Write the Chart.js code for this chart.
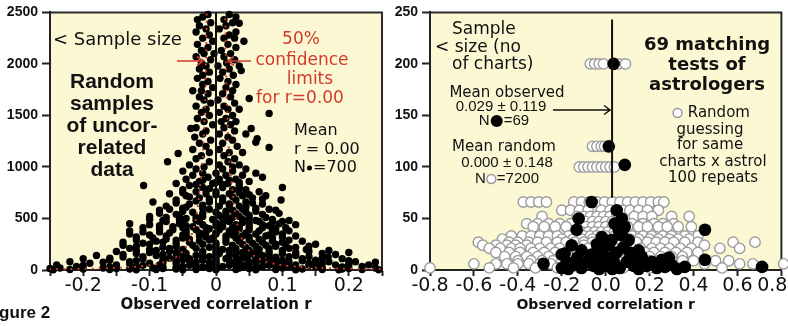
<!DOCTYPE html>
<html>
<head>
<meta charset="utf-8">
<script src="https://cdn.jsdelivr.net/npm/chart.js@4.4.1/dist/chart.umd.min.js"></script>
<style>
  html, body { margin: 0; padding: 0; background: #fff; }
  #wrap { position: relative; width: 788px; height: 326px; overflow: hidden; }
  canvas { position: absolute; top: 0; }
  #left { left: 0; }
  #right { left: 388px; }
</style>
</head>
<body>
<div id="wrap">
  <canvas id="left" width="395" height="326"></canvas>
  <canvas id="right" width="400" height="326"></canvas>
</div>
<script>
// ---- left panel: random samples of uncorrelated data, [r, sample size] ----
const randomSampleDots = [
  // narrow column above N = 1000
  [-0.012,2480],[0.02,2480],[-0.02,2455],[0.03,2455],[0.012,2430],[-0.028,2430],
  [-0.008,2400],[0.025,2400],[0.035,2395],[-0.025,2370],[0.015,2370],[0.005,2340],[-0.015,2340],
  [0.03,2310],[-0.03,2310],[-0.01,2280],[0.02,2280],[-0.02,2250],[0.012,2250],[0.028,2250],
  [0.042,2220],[-0.005,2220],[-0.028,2190],[0.018,2190],[-0.012,2160],[0.03,2160],
  [0.008,2130],[-0.022,2130],[-0.018,2100],[0.022,2100],[-0.003,2100],[0.012,2070],[-0.03,2070],
  [-0.008,2040],[0.028,2040],[-0.022,2010],[0.016,2010],[0.003,1980],[-0.015,1980],[0.035,1980],
  [-0.025,1950],[0.02,1950],[0.038,1935],[-0.01,1920],[0.01,1920],[-0.02,1890],[0.026,1890],
  [0.006,1860],[-0.028,1860],[-0.012,1830],[0.018,1830],[0.03,1800],[-0.02,1800],
  [-0.005,1770],[0.015,1770],[-0.035,1740],[-0.022,1740],[0.025,1740],[0.01,1710],[-0.012,1710],
  [-0.025,1680],[0.022,1680],[0.05,1665],[0.003,1650],[-0.018,1650],[0.028,1620],[-0.008,1620],
  [-0.03,1590],[0.012,1590],[0.018,1560],[-0.015,1560],[0.035,1560],[-0.022,1530],[0.005,1530],
  [0.08,1520],[0.025,1500],[-0.01,1500],[-0.028,1470],[0.015,1470],[0.008,1440],[-0.018,1440],[0.03,1440],
  [-0.005,1410],[0.022,1410],[-0.03,1380],[0.012,1380],[0.053,1373],[-0.038,1373],[0.028,1350],[-0.015,1350],
  [-0.02,1320],[0.005,1320],[0.045,1320],[0.018,1290],[-0.032,1290],[0.062,1275],[-0.008,1260],[0.025,1260],
  [0.06,1240],[-0.025,1230],[0.01,1230],[0.032,1200],[-0.015,1200],[0.08,1190],[-0.035,1170],[0.005,1170],
  [0.02,1140],[-0.01,1140],[0.04,1140],[-0.057,1130],[-0.022,1110],[0.012,1110],[0.028,1080],[-0.03,1080],
  [-0.073,1050],[-0.01,1050],[0.018,1050],[0.005,1020],[-0.04,1020],[0.035,1020],[-0.018,1000],[0.025,1000],
  // N 500 - 1000
  [-0.03,980],[0.01,980],[0.045,980],[-0.05,960],[0.025,960],[0.0,940],[-0.02,940],[0.06,940],
  [-0.035,920],[0.015,920],[0.04,920],[0.07,900],[-0.012,900],[-0.045,880],[0.005,880],[0.03,880],
  [-0.02,870],[0.02,870],[0.0,850],[0.035,850],[-0.03,830],[0.01,830],
  [-0.025,860],[0.05,860],[-0.06,840],[0.018,840],[-0.005,840],[-0.109,820],[0.035,820],[-0.04,820],
  [0.1,800],[-0.02,800],[0.01,800],[-0.01,790],[0.035,790],[-0.05,780],[0.045,780],[0.025,780],
  [-0.03,760],[0.0,760],[0.065,760],[-0.05,750],[0.035,750],
  [-0.07,740],[0.02,740],[-0.015,740],[0.0,730],[0.05,730],[0.04,720],[-0.045,720],[0.075,720],
  [-0.04,710],[0.025,710],[-0.025,700],[0.01,700],[0.055,700],[-0.01,690],[0.07,690],
  [0.098,680],[-0.06,680],[0.03,680],[0.01,670],[-0.03,670],[-0.095,660],[-0.01,660],[0.045,660],
  [-0.06,650],[0.055,650],[-0.04,640],[0.02,640],[0.07,640],[-0.02,630],[0.02,630],
  [-0.075,620],[0.005,620],[0.035,620],[0.045,610],[-0.045,610],[-0.02,600],[0.06,600],[-0.05,600],
  [-0.07,590],[-0.01,590],[0.04,590],[0.08,590],[0.025,580],[-0.085,580],[0.09,580],
  [-0.05,570],[0.015,570],[0.06,570],[-0.035,560],[0.045,560],[0.0,560],
  [-0.085,550],[-0.02,550],[0.03,550],[0.095,550],[-0.06,540],[0.015,540],[0.07,540],
  [-0.055,530],[0.005,530],[0.05,530],[0.035,520],[-0.02,520],[-0.1,520],
  [-0.075,510],[-0.03,510],[0.025,510],[0.075,510],[-0.045,500],[0.05,500],[0.01,500],
  // N 200 - 500
  [-0.1,490],[-0.055,490],[-0.005,490],[0.04,490],[0.085,490],
  [-0.08,480],[-0.03,480],[0.02,480],[0.06,480],[0.11,480],
  [-0.075,470],[-0.025,470],[0.02,470],[0.065,470],[0.1,470],
  [-0.05,460],[0.0,460],[0.04,460],[0.085,460],
  [-0.13,450],[-0.055,450],[0.01,450],[0.05,450],[0.095,450],
  [-0.1,440],[-0.02,440],[0.03,440],[0.07,440],[0.12,440],
  [-0.085,430],[-0.045,430],[0.0,430],[0.035,430],[0.08,430],
  [-0.065,420],[0.01,420],[0.05,420],[-0.035,420],
  [-0.11,410],[-0.05,410],[-0.015,410],[0.025,410],[0.07,410],[0.105,410],
  [-0.085,400],[-0.01,400],[0.09,400],[0.035,400],
  [-0.065,390],[-0.03,390],[0.005,390],[0.05,390],[0.085,390],
  [-0.13,380],[-0.045,380],[0.02,380],[0.065,380],[0.11,380],
  [-0.11,370],[-0.085,370],[-0.015,370],[0.03,370],[0.09,370],
  [-0.07,360],[0.0,360],[0.045,360],[-0.025,360],
  [-0.13,350],[-0.045,350],[0.0,350],[0.06,350],[0.1,350],
  [-0.1,340],[-0.05,340],[0.08,340],[0.025,340],
  [-0.075,330],[-0.025,330],[0.015,330],[0.04,330],[0.075,330],[0.12,330],
  [-0.12,320],[-0.015,320],[0.05,320],[0.1,320],
  [-0.095,310],[-0.05,310],[-0.005,310],[0.03,310],[0.085,310],
  [-0.075,300],[0.015,300],[0.065,300],[-0.04,300],
  [-0.12,290],[-0.06,290],[-0.01,290],[0.05,290],[0.11,290],
  [-0.09,280],[-0.025,280],[0.035,280],[0.085,280],[0.13,280],
  [-0.14,270],[-0.08,270],[-0.04,270],[0.015,270],[0.07,270],[0.1,270],
  [-0.06,260],[0.0,260],[0.055,260],[-0.11,260],
  [-0.1,250],[-0.02,250],[0.04,250],[0.09,250],[0.15,250],
  [-0.14,240],[-0.035,240],[0.025,240],[0.075,240],[0.105,240],
  [-0.12,230],[-0.06,230],[0.0,230],[0.06,230],[0.09,230],[0.14,230],
  [-0.08,220],[-0.01,220],[0.045,220],[0.12,220],
  [-0.13,210],[-0.07,210],[-0.03,210],[0.03,210],[0.08,210],[0.11,210],
  [-0.1,200],[-0.05,200],[0.01,200],[0.065,200],[0.136,200],
  // N below 200
  [-0.05,190],[0.0,190],[0.05,190],[-0.12,190],[-0.09,190],[0.02,190],[0.1,190],[0.17,190],
  [-0.15,180],[-0.07,180],[-0.02,180],[0.03,180],[0.08,180],[0.14,180],
  [-0.1,170],[-0.06,170],[0.0,170],[0.04,170],[0.06,170],[0.12,170],[0.2,170],
  [-0.12,160],[-0.045,160],[0.005,160],[0.055,160],[0.1,160],[0.16,160],
  [-0.08,150],[-0.02,150],[0.03,150],[0.08,150],[-0.14,150],[-0.05,150],[0.0,150],[0.05,150],[0.12,150],[0.18,150],
  [-0.18,140],[-0.09,140],[-0.03,140],[0.02,140],[0.07,140],[0.12,140],
  [-0.11,130],[-0.08,130],[-0.01,130],[0.03,130],[0.06,130],[0.11,130],[0.14,130],
  [-0.14,125],[-0.06,125],[0.0,125],[0.045,125],[0.169,125],[0.09,125],
  [-0.16,115],[-0.07,115],[-0.02,115],[0.04,115],[0.09,115],[0.16,115],
  [-0.2,110],[-0.11,110],[-0.04,110],[0.015,110],[0.06,110],[0.13,110],[0.19,110],
  [-0.05,100],[0.0,100],[0.08,100],
  [-0.16,95],[-0.08,95],[-0.02,95],[0.035,95],[0.1,95],[0.15,95],
  [-0.12,90],[-0.04,90],[0.02,90],[0.07,90],[0.13,90],[0.2,90],
  [-0.22,80],[-0.13,80],[-0.06,80],[0.0,80],[0.05,80],[0.11,80],[0.17,80],[0.21,80],
  [-0.17,75],[-0.03,75],[0.03,75],[0.09,75],[0.15,75],[0.24,75],
  [-0.08,70],[-0.01,70],[0.06,70],
  [-0.19,65],[-0.1,65],[-0.035,65],[0.025,65],[0.08,65],[0.14,65],[0.2,65],
  [-0.13,60],[-0.06,60],[0.0,60],[0.05,60],[0.1,60],[0.16,60],
  [-0.24,50],[-0.15,50],[-0.085,50],[-0.01,50],[0.045,50],[0.12,50],[0.18,50],[0.23,50],
  [-0.2,45],[-0.11,45],[-0.04,45],[0.02,45],[0.08,45],[0.14,45],[0.2,45],
  [-0.03,40],[0.04,40],[0.09,40],
  [-0.21,35],[-0.12,35],[-0.05,35],[0.01,35],[0.07,35],[0.15,35],[0.22,35],
  [-0.16,30],[-0.08,30],[-0.02,30],[0.04,30],[0.11,30],[0.19,30],
  [-0.06,25],[0.0,25],[0.06,25],
  [-0.235,20],[-0.17,20],[-0.095,20],[-0.03,20],[0.035,20],[0.1,20],[0.16,20],[0.24,20],
  [-0.25,15],[-0.15,15],[-0.08,15],[-0.01,15],[0.05,15],[0.12,15],[0.2,15],
  [-0.2,10],[-0.13,10],[-0.06,10],[0.0,10],[0.06,10],[0.13,10],[0.19,10],
  [-0.22,5],[-0.16,5],[-0.09,5],[-0.03,5],[0.03,5],[0.09,5],[0.16,5],[0.22,5],
  [-0.245,3],[-0.12,3],[-0.05,3],[0.0,3],[0.06,3],[0.12,3],[0.185,3],[0.245,3]
];

// 50% confidence limits for r = 0.00
const limitN = [2500, 2000, 1500, 1000, 700, 500, 300, 200, 130, 80, 50, 30, 20, 14, 10, 8];
const limitR = [0.014, 0.015, 0.017, 0.021, 0.026, 0.030, 0.039, 0.048, 0.059, 0.076, 0.096, 0.125, 0.155, 0.185, 0.22, 0.25];

// ---- right panel: 69 matching tests of astrologers, [r, no of charts] ----
const astrologerTests = [
  [0.036,200],[0.014,120],[0.087,102],[-0.064,66],[0.05,58],[-0.123,50],[0.073,50],[0.04,45],
  [0.087,42],[-0.132,39],[0.452,39],[0.06,38],[0.073,34],[-0.018,32],[0.027,29],[0.105,29],
  [0.014,24],[-0.155,24],[-0.04,25],[0.08,22],[-0.018,19],[0.15,19],[-0.11,19],[0.05,17],[0.11,17],
  [-0.187,16],[-0.2,15],[-0.064,15],[0.164,13],[0.288,12],[0.02,12],[-0.13,12],[0.256,10],[0.452,10],
  [-0.027,10],[0.13,10],[-0.087,8],[0.037,8],[0.096,8],[0.21,8],[-0.178,8],[-0.283,6],[0.17,6],
  [-0.146,5],[0.3,5],[-0.055,4],[0.005,4],[0.128,4],[0.187,4],[0.36,3],[0.712,3],[0.27,3],
  [-0.2,2],[0.064,2],[-0.11,2],[0.233,2],[0.324,1],[0.03,1],[-0.03,1],[0.15,1],[-0.17,1]
];

// random guessing for the same charts x astrologers (100 repeats), one row per sample size
const guessRowN = [200, 120, 100, 66, 58, 52, 47, 45, 42, 37, 33, 30, 27, 24, 21, 17, 13, 9, 6, 2];
const guessRowR = [
  [-0.07, -0.05, -0.03, -0.01, 0.06, 0.09],
  [-0.06, -0.04, -0.02, -0.005],
  [-0.12, -0.1, -0.08, -0.06, -0.04, -0.02, 0.0, 0.02, 0.04],
  [-0.375, -0.34, -0.305, -0.27, -0.145, -0.11, -0.075, -0.04, -0.005, 0.03, 0.065, 0.1, 0.135, 0.17, 0.205, 0.24, 0.265],
  [-0.2, -0.16, -0.12, -0.08, -0.02, 0.02, 0.08, 0.11, 0.15, 0.19, 0.24],
  [-0.29, -0.13, -0.1, -0.07, -0.04, -0.01, 0.02, 0.05, 0.13, 0.17, 0.21, 0.3, 0.38],
  [-0.12, -0.09, -0.06, -0.03, 0.0, 0.03],
  [-0.36, -0.31, -0.26, -0.21, -0.16, 0.08, 0.12, 0.17, 0.22, 0.26, 0.31],
  [-0.33, -0.28, -0.23, -0.18, -0.12, -0.09, -0.06, -0.03, 0.0, 0.03, 0.06, 0.1, 0.15, 0.19, 0.24, 0.28, 0.33, 0.39],
  [-0.14, -0.11, -0.08, -0.05, -0.02, 0.01, 0.04],
  [-0.43, -0.38, -0.34, -0.3, -0.26, -0.22, -0.17, -0.13, -0.1, -0.07, -0.04, 0.0, 0.04, 0.08, 0.12, 0.17, 0.21, 0.26, 0.3, 0.36, 0.42],
  [-0.47, -0.2, -0.15, -0.11, -0.06, -0.02, 0.02, 0.07, 0.11, 0.15, 0.2, 0.24, 0.29, 0.33, 0.38],
  [-0.58, -0.44, -0.4, -0.35, -0.31, -0.27, -0.22, -0.18, -0.14, -0.1, -0.06, -0.02, 0.02, 0.06, 0.1, 0.14, 0.19, 0.23, 0.27, 0.31, 0.36, 0.42, 0.58, 0.68],
  [-0.56, -0.5, -0.45, -0.41, -0.36, -0.1, -0.05, 0.0, 0.05, 0.1, 0.45],
  [-0.53, -0.48, -0.43, -0.39, -0.34, -0.3, -0.25, -0.21, -0.16, -0.12, -0.08, -0.04, 0.0, 0.04, 0.08, 0.12, 0.16, 0.21, 0.25, 0.29, 0.34, 0.39, 0.52, 0.61],
  [-0.5, -0.44, -0.39, -0.33, -0.28, -0.23, -0.18, -0.13, 0.08, 0.13, 0.18, 0.22, 0.27, 0.32, 0.37, 0.42],
  [-0.46, -0.41, -0.36, -0.31, -0.26, -0.21, -0.17, -0.12, -0.07, -0.03, 0.02, 0.06, 0.11, 0.15, 0.2, 0.25, 0.3, 0.35],
  [-0.4, -0.34, -0.29, -0.24, -0.2, -0.05, 0.1, 0.2, 0.3, 0.35, 0.4, 0.5, 0.56],
  [-0.6, -0.5, -0.45, -0.4, -0.35, -0.3, -0.25, -0.15, -0.1, 0.0, 0.05, 0.15, 0.25, 0.45, 0.61, 0.67, 0.81],
  [-0.8, -0.53, -0.42, -0.32, -0.22, -0.12, 0.08, 0.2, 0.33, 0.53]
];

const observedMeanR = 0.029;
const observedLineN = [70, 243];

const RED = '#d23b2b';
const INK = '#111';
const PANEL_BG = '#fcf8d4';

// ---------- small drawing helpers for the annotations ----------
function note(ctx, text, x, y, font, color, align) {
  ctx.font = font;
  ctx.fillStyle = color || INK;
  ctx.textAlign = align || 'center';
  ctx.textBaseline = 'middle';
  ctx.fillText(text, x, y);
}

function markerNote(ctx, before, after, x, y, font, kind, align) {
  ctx.font = font;
  ctx.textBaseline = 'middle';
  ctx.textAlign = 'left';
  const r = kind === 'bigDot' ? 6 : kind === 'ring' ? 4.5 : 2.5;
  const w1 = ctx.measureText(before).width;
  const w2 = ctx.measureText(after).width;
  const total = w1 + 2 * r + 2 + w2;
  const x0 = align === 'center' ? x - total / 2 : x;
  ctx.fillStyle = INK;
  ctx.fillText(before, x0, y);
  const cx = x0 + w1 + 1 + r;
  ctx.beginPath();
  ctx.arc(cx, y, r, 0, Math.PI * 2);
  if (kind === 'ring') {
    ctx.fillStyle = '#fff'; ctx.fill();
    ctx.strokeStyle = '#999'; ctx.lineWidth = 1.5; ctx.stroke();
  } else {
    ctx.fillStyle = '#000'; ctx.fill();
  }
  ctx.fillStyle = INK;
  ctx.fillText(after, cx + r + 1, y);
}

function arrow(ctx, x1, x2, y, color, width) {
  const dir = Math.sign(x2 - x1);
  ctx.strokeStyle = color;
  ctx.lineWidth = width;
  ctx.beginPath();
  ctx.moveTo(x1, y); ctx.lineTo(x2, y);
  ctx.moveTo(x2 - dir * 6, y - 4.5); ctx.lineTo(x2, y); ctx.lineTo(x2 - dir * 6, y + 4.5);
  ctx.stroke();
}

// yellow plot box with top and right frame lines
const panelBox = {
  id: 'panelBox',
  beforeDraw(chart) {
    const { ctx, chartArea: a } = chart;
    ctx.save();
    ctx.fillStyle = PANEL_BG;
    ctx.fillRect(a.left, a.top, a.width, a.height);
    ctx.strokeStyle = '#2a2a2a';
    ctx.lineWidth = 2;
    ctx.beginPath();
    ctx.moveTo(a.left, a.top); ctx.lineTo(a.right, a.top); ctx.lineTo(a.right, a.bottom);
    ctx.stroke();
    ctx.restore();
  }
};

const leftNotes = {
  id: 'leftNotes',
  afterDraw(chart) {
    const ctx = chart.ctx;
    ctx.save();
    note(ctx, '< Sample size', 53, 40, '18px "DejaVu Sans"', INK, 'left');
    ['Random', 'samples', 'of uncor-', 'related', 'data'].forEach((t, i) =>
      note(ctx, t, 112, 82 + i * 22, 'bold 21px "Liberation Sans"'));
    const redFont = '17px "DejaVu Sans"';
    note(ctx, '50%', 301, 40, redFont, RED);
    arrow(ctx, 177, 203, 61, RED, 1.6);
    arrow(ctx, 251, 228, 61, RED, 1.6);
    note(ctx, 'confidence', 302, 61, redFont, RED);
    note(ctx, 'limits', 310, 80, redFont, RED);
    note(ctx, 'for r=0.00', 300, 99, redFont, RED);
    const meanFont = '16px "DejaVu Sans"';
    note(ctx, 'Mean', 294, 131, meanFont, INK, 'left');
    note(ctx, 'r = 0.00', 294, 150, meanFont, INK, 'left');
    markerNote(ctx, 'N', '=700', 294, 168, meanFont, 'dot', 'left');
    note(ctx, 'Figure 2', -16, 313, 'bold 17px "Liberation Sans"', INK, 'left');
    ctx.restore();
  }
};

const rightNotes = {
  id: 'rightNotes',
  afterDraw(chart) {
    const ctx = chart.ctx;
    const dx = 388; // canvas offset on the page
    ctx.save();
    const f17 = '17px "DejaVu Sans"';
    note(ctx, 'Sample', 452 - dx, 30, f17, INK, 'left');
    note(ctx, '< size (no', 435 - dx, 48, f17, INK, 'left');
    note(ctx, 'of charts)', 452 - dx, 65, f17, INK, 'left');
    const f15 = '15px "DejaVu Sans"';
    const fNum = '15px "Liberation Sans"';
    note(ctx, 'Mean observed', 507 - dx, 93, f15);
    note(ctx, '0.029 \u00b1 0.119', 501 - dx, 107, fNum);
    markerNote(ctx, 'N', '=69', 504 - dx, 121, fNum, 'bigDot', 'center');
    note(ctx, 'Mean random', 504 - dx, 147, f15);
    note(ctx, '0.000 \u00b1 0.148', 507 - dx, 163, fNum);
    markerNote(ctx, 'N', '=7200', 507 - dx, 179, fNum, 'ring', 'center');
    const xEnd = chart.scales.x.getPixelForValue(observedMeanR) - 2;
    arrow(ctx, 553 - dx, xEnd, 110, INK, 1.5);
    const fHead = 'bold 18px "DejaVu Sans"';
    note(ctx, '69 matching', 707 - dx, 45, fHead);
    note(ctx, 'tests of', 707 - dx, 65, fHead);
    note(ctx, 'astrologers', 707 - dx, 85, fHead);
    markerNote(ctx, '', ' Random', 711 - dx, 113, f15, 'ring', 'center');
    note(ctx, 'guessing', 710 - dx, 130, f15);
    note(ctx, 'for same', 710 - dx, 145, f15);
    note(ctx, 'charts x astrol', 713 - dx, 162, f15);
    note(ctx, '100 repeats', 713 - dx, 178, f15);
    ctx.restore();
  }
};

// ---------- shared axis settings ----------
function xAxis(min, max, step, labelFn, labelSize, titleSize) {
  return {
    type: 'linear', min, max,
    afterFit: s => { s.height = 56; s.paddingLeft = 0; s.paddingRight = 0; },
    ticks: { stepSize: step, autoSkip: false, maxRotation: 0, padding: -1, color: INK,
             font: { family: 'DejaVu Sans', size: labelSize }, callback: labelFn },
    grid: { drawOnChartArea: false, tickLength: 6, tickColor: '#222', tickWidth: 2 },
    border: { color: '#222', width: 2 },
    title: { display: true, text: 'Observed correlation r', color: INK,
             font: { family: 'DejaVu Sans', size: titleSize, weight: 'bold' },
             padding: { top: 0, bottom: 12 } }
  };
}

function yAxis(max, step, width) {
  return {
    type: 'linear', min: 0, max,
    afterFit: s => { s.width = width; },
    ticks: { stepSize: step, padding: 4, color: INK, callback: v => String(v),
             font: { family: 'Liberation Sans', size: 14, weight: 'bold' } },
    grid: { drawOnChartArea: false, tickLength: 8, tickColor: '#222', tickWidth: 2 },
    border: { color: '#222', width: 2 }
  };
}

const baseOptions = {
  responsive: false,
  animation: false,
  events: [],
  plugins: { legend: { display: false }, tooltip: { enabled: false } }
};

// ---------- left chart ----------
const upperLimit = limitN.map((n, i) => ({ x: limitR[i], y: n }));
const lowerLimit = limitN.map((n, i) => ({ x: -limitR[i], y: n })).reverse();

// datasets listed first are drawn on top
new Chart(document.getElementById('left'), {
  type: 'scatter',
  data: {
    datasets: [
      { data: [{ x: 0, y: 0 }, { x: 0, y: 2500 }], showLine: true, borderColor: INK, borderWidth: 2, pointRadius: 0 },
      { data: upperLimit, showLine: true, borderColor: RED, borderWidth: 2.1, borderDash: [0.1, 7],
        borderCapStyle: 'round', tension: 0.3, pointRadius: 0 },
      { data: lowerLimit, showLine: true, borderColor: RED, borderWidth: 2.1, borderDash: [0.1, 7],
        borderCapStyle: 'round', tension: 0.3, pointRadius: 0 },
      { data: randomSampleDots.map(([r, n]) => ({ x: r, y: n })),
        pointRadius: 3.7, pointBackgroundColor: '#000', pointBorderWidth: 0, clip: 4 }
    ]
  },
  options: {
    ...baseOptions,
    layout: { padding: { top: 11, right: 13, left: 0, bottom: 0 } },
    scales: {
      x: xAxis(-0.25, 0.25, 0.05, v => {
        if (Math.abs(v) < 1e-9) return '0';
        return Math.abs(v * 10 - Math.round(v * 10)) < 1e-6 ? v.toFixed(1) : '';
      }, 19, 15),
      y: yAxis(2500, 500, 50)
    }
  },
  plugins: [panelBox, leftNotes]
});

// ---------- right chart ----------
const guessPoints = [];
guessRowN.forEach((n, i) => guessRowR[i].forEach(r => guessPoints.push({ x: r, y: n })));

new Chart(document.getElementById('right'), {
  type: 'scatter',
  data: {
    datasets: [
      { data: observedLineN.map(n => ({ x: observedMeanR, y: n })), showLine: true,
        borderColor: INK, borderWidth: 2, pointRadius: 0 },
      { data: astrologerTests.map(([r, n]) => ({ x: r, y: n })),
        pointRadius: 6.3, pointBackgroundColor: '#000', pointBorderWidth: 0, clip: 8 },
      { data: guessPoints, pointRadius: 5.2, pointBackgroundColor: '#fff',
        pointBorderColor: '#9c9c9c', pointBorderWidth: 1.4, clip: 8 }
    ]
  },
  options: {
    ...baseOptions,
    layout: { padding: { top: 11, right: 6, left: 0, bottom: 0 } },
    scales: {
      // trailing spaces keep the last label inside the page, as in the original
      x: xAxis(-0.8, 0.8, 0.2, v => {
        const s = Math.abs(v) < 1e-9 ? '0.0' : v.toFixed(1);
        return v > 0.79 ? s + '   ' : s;
      }, 19, 14),
      y: yAxis(250, 50, 42)
    }
  },
  plugins: [panelBox, rightNotes]
});
</script>
</body>
</html>
